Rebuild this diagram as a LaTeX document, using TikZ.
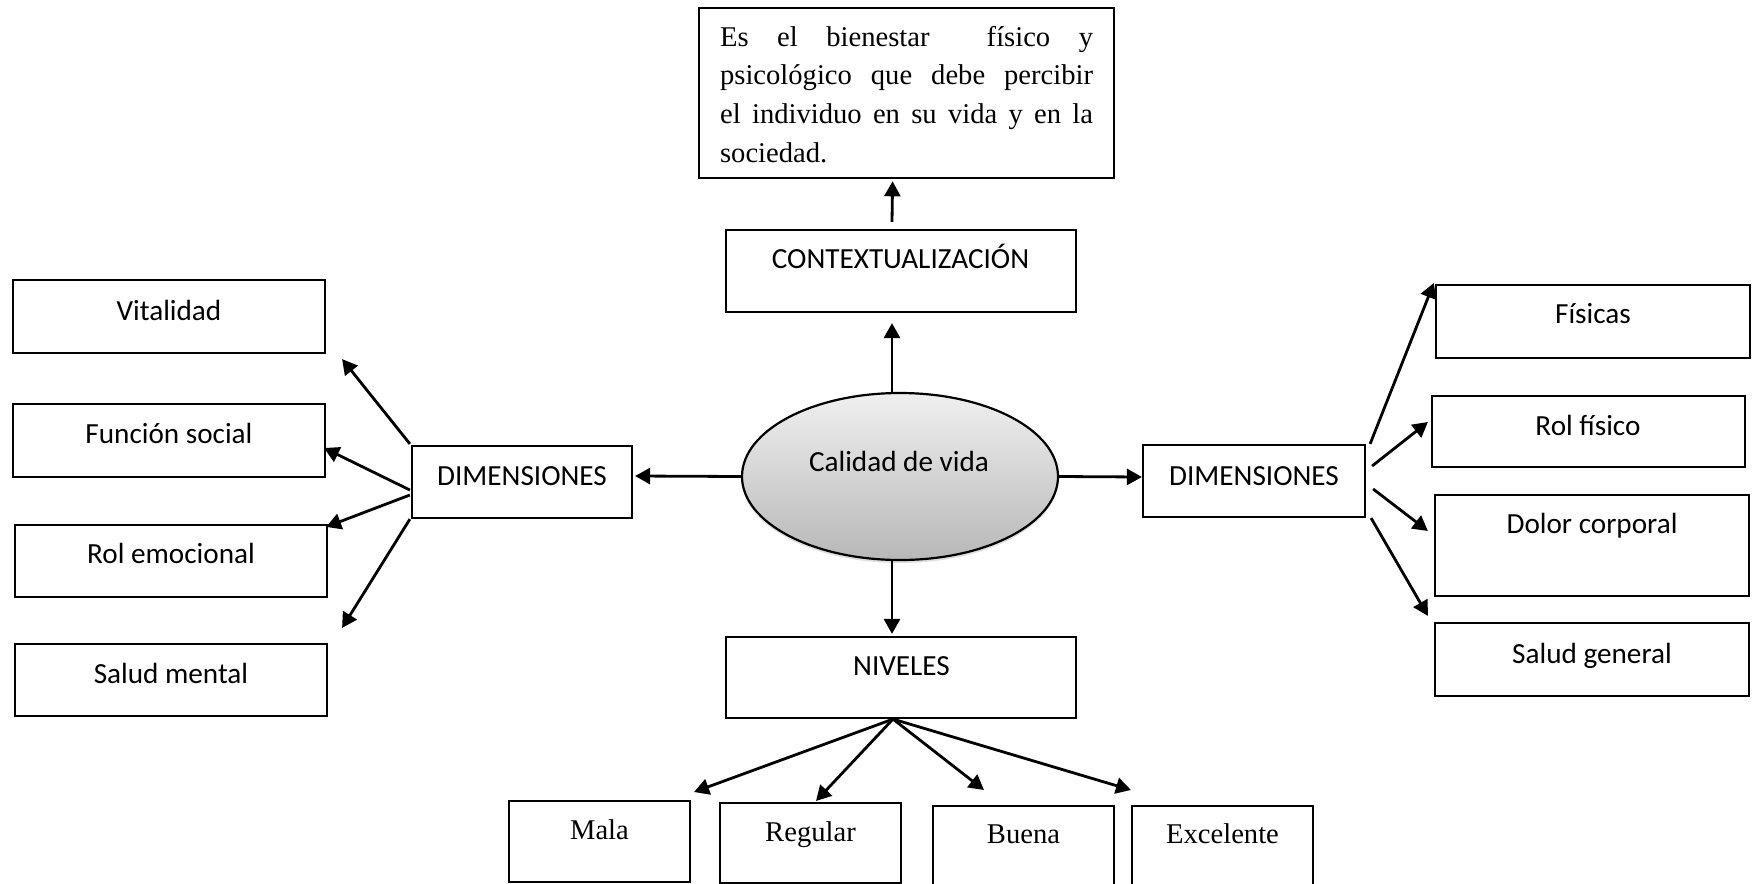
\documentclass[tikz,border=0pt]{standalone}
\usepackage{fontspec}
\setmainfont{Liberation Serif}
\newfontfamily\calibri{Carlito}
\usetikzlibrary{arrows.meta,fit,shadows,shapes.geometric}
\begin{document}
\begin{tikzpicture}[x=0.5pt,y=-0.5pt,
  bx/.style={draw, line width=1.1pt, inner sep=0pt},
  arr/.style={line width=1.4pt, -{Triangle[length=7.5pt,width=8pt]}},
  cal/.style={font=\calibri\fontsize{14.6}{17}\selectfont, anchor=base, inner sep=0pt},
  tms/.style={font=\fontsize{14.3}{17}\selectfont, anchor=base, inner sep=0pt}]
\useasboundingbox (0,0) rectangle (1752,884);
\fill[white] (0,0) rectangle (1752,884);

% top definition box
\node[bx, anchor=north west, inner xsep=10.5pt, inner ysep=0pt] (txt) at (698,7)
 {\parbox[t]{186.5pt}{\fontsize{14.3}{19.35}\selectfont\rule{0pt}{19pt}Es el bienestar\ \ físico y\linebreak psicológico que debe percibir\linebreak el individuo en su vida y en la\linebreak sociedad.\rule[-8pt]{0pt}{8pt}}};

% central boxes
\node[bx, fit={(726,230) (1076,312)}] (ctx) {};
\node[cal] at (900.5,268) {CONTEXTUALIZACIÓN};
\node[bx, fit={(726,637) (1076,718)}] (niv) {};
\node[cal] at (901.5,675) {NIVELES};

\node[ellipse, draw, line width=1.1pt, minimum width=158pt, minimum height=83.5pt, inner sep=0pt,
  top color=black!6, bottom color=black!28,
  drop shadow={shadow xshift=0pt, shadow yshift=-1.5pt, opacity=0.25}] (ell) at (900,476.5) {};
\node[cal] at (899,471) {Calidad de vida};

\node[bx, fit={(412,446) (632,518)}] (dimL) {};
\node[cal] at (522,485) {DIMENSIONES};
\node[bx, fit={(1143,445) (1365,517)}] (dimR) {};
\node[cal] at (1254,485) {DIMENSIONES};

% left boxes
\node[bx, fit={(13,280) (325,353)}] (vit) {};
\node[cal] at (169,320) {Vitalidad};
\node[bx, fit={(13,404) (325,477)}] (fun) {};
\node[cal] at (169,443) {Función social};
\node[bx, fit={(15,525) (327,597)}] (rem) {};
\node[cal] at (171,563) {Rol emocional};
\node[bx, fit={(15,644) (327,716)}] (sme) {};
\node[cal] at (171,683) {Salud mental};

% right boxes
\node[bx, fit={(1436,285) (1750,358)}] (fis) {};
\node[cal] at (1593,323) {Físicas};
\node[bx, fit={(1432,396) (1745,467)}] (rfi) {};
\node[cal] at (1588,435) {Rol físico};
\node[bx, fit={(1435,495) (1749,596)}] (dol) {};
\node[cal] at (1592,533) {Dolor corporal};
\node[bx, fit={(1435,623) (1749,696)}] (sge) {};
\node[cal] at (1592,663) {Salud general};

% bottom boxes
\node[bx, line width=1pt, fit={(509,801) (690,882)}] (mala) {};
\node[tms] at (599.5,839) {Mala};
\node[bx, line width=1pt, fit={(720,803) (901,883)}] (reg) {};
\node[tms] at (810.5,841) {Regular};
\node[bx, line width=1pt, fit={(933,806) (1114,895)}] (bue) {};
\node[tms] at (1023.5,843) {Buena};
\node[bx, line width=1pt, fit={(1132,806) (1313,895)}] (exc) {};
\node[tms] at (1222.5,843) {Excelente};

% arrows
\draw[arr] ([shift={(-9,-7)}]ctx.north) -- ([shift={(-14,2)}]txt.south);
\draw[arr] ([shift={(-8,0)}]ell.north) -- ([shift={(-9,10)}]ctx.south);
\draw[arr] ([shift={(-8,0)}]ell.south) -- ([shift={(-9,-2)}]niv.north);
\draw[arr] (ell.west) -- ([shift={(2,-6)}]dimL.east);
\draw[arr] (ell.east) -- ([shift={(0,-4)}]dimR.west);

\draw[arr] ([shift={(-1,-1)}]dimL.north west) -- ([shift={(16,5)}]vit.south east);
\draw[arr] ([shift={(-1,8)}]dimL.west) -- ([shift={(-2,7.5)}]fun.east);
\draw[arr] ([shift={(-1,13)}]dimL.west) -- ([shift={(-2,3)}]rem.north east);
\draw[arr] ([shift={(-1,0)}]dimL.south west) -- ([shift={(14,-15)}]sme.north east);

\draw[arr] ([shift={(4,0)}]dimR.north east) -- ([shift={(-1,-1)}]fis.north west);
\draw[arr] ([shift={(6,-15)}]dimR.east) -- ([shift={(-3,-9.5)}]rfi.west);
\draw[arr] ([shift={(7,8)}]dimR.east) -- ([shift={(-6,-14.5)}]dol.west);
\draw[arr] ([shift={(5,0)}]dimR.south east) -- ([shift={(-6,-6)}]sge.north west);

\draw[arr] ([shift={(-8,0)}]niv.south) -- ([shift={(3,-8)}]mala.north east);
\draw[arr] ([shift={(-8,0)}]niv.south) -- ([shift={(5.5,-1)}]reg.north);
\draw[arr] ([shift={(-8,0)}]niv.south) -- ([shift={(-39.5,-15)}]bue.north);
\draw[arr] ([shift={(-8,0)}]niv.south) -- ([shift={(0,-15)}]exc.north west);
\end{tikzpicture}
\end{document}
